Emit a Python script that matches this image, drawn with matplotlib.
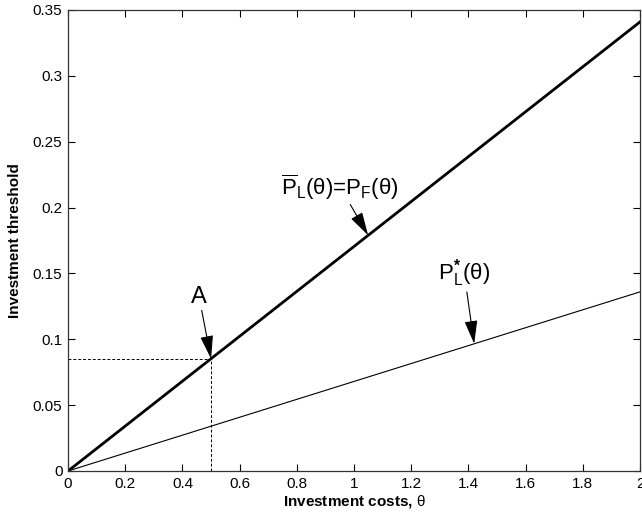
import matplotlib
matplotlib.use("Agg")
import matplotlib.pyplot as plt
import numpy as np

plt.rcParams['font.family'] = ['Liberation Sans', 'DejaVu Sans']
plt.rcParams['mathtext.fontset'] = 'custom'
plt.rcParams['mathtext.rm'] = 'Liberation Sans'
plt.rcParams['mathtext.it'] = 'Liberation Sans'
plt.rcParams['mathtext.bf'] = 'Liberation Sans:bold'

theta = [0.0, 2.0]
p_bar = [0.0, 0.341]
p_star = [0.0, 0.136]
point_A = (0.5, 0.0852)
xticks = [0, 0.2, 0.4, 0.6, 0.8, 1.0, 1.2, 1.4, 1.6, 1.8, 2.0]
xticklabels = ['0', '0.2', '0.4', '0.6', '0.8', '1', '1.2', '1.4', '1.6', '1.8', '2']
yticks = [0, 0.05, 0.1, 0.15, 0.2, 0.25, 0.3, 0.35]
yticklabels = ['0', '0.05', '0.1', '0.15', '0.2', '0.25', '0.3', '0.35']

fig = plt.figure(figsize=(6.42, 5.26), dpi=100)
ax = fig.add_axes([0.106, 0.1046, 0.891, 0.8764])

ax.plot(theta, p_bar, color='black', lw=2.0)
ax.plot(theta, p_star, color='black', lw=0.8)
ax.plot([0, point_A[0]], [point_A[1], point_A[1]], color='black', lw=0.7, ls=(0, (3, 2)))
ax.plot([point_A[0], point_A[0]], [0, point_A[1]], color='black', lw=0.7, ls=(0, (3, 2)))

ax.set_xlim(0, 2)
ax.set_ylim(0, 0.35)
ax.set_xticks(xticks)
ax.set_xticklabels(xticklabels)
ax.set_yticks(yticks)
ax.set_yticklabels(yticklabels)
ax.tick_params(direction='in', top=True, right=True, labelsize=11, length=5, width=0.8, pad=4)
for s in ax.spines.values():
    s.set_color('#333333')
    s.set_linewidth(0.9)

ax.set_xlabel(r'Investment costs, $\theta$', fontsize=11, fontweight='bold', labelpad=2)
ax.set_ylabel('Investment threshold', fontsize=11, fontweight='bold', labelpad=8)

arrowprops = dict(arrowstyle='-|>,head_length=0.9,head_width=0.25', color='black', lw=0.8,
                  mutation_scale=16, shrinkA=0, shrinkB=0)
ax.annotate('A', xy=(0.5, 0.0852), xytext=(0.458, 0.124), fontsize=17,
            ha='center', va='bottom', arrowprops=arrowprops)
ax.annotate(r'$\overline{\mathrm{P}}_{\mathrm{L}}(\theta)$=$\mathrm{P}_{\mathrm{F}}(\theta)$',
            xy=(1.049, 0.179), xytext=(0.951, 0.2045), fontsize=16,
            ha='center', va='bottom', arrowprops=arrowprops)
ax.annotate(r'$\mathrm{P}^{\mathbf{*}}_{\mathrm{L}}(\theta)$',
            xy=(1.42, 0.0966), xytext=(1.385, 0.138), fontsize=16,
            ha='center', va='bottom', arrowprops=arrowprops)

fig.savefig('out.png', dpi=100)
